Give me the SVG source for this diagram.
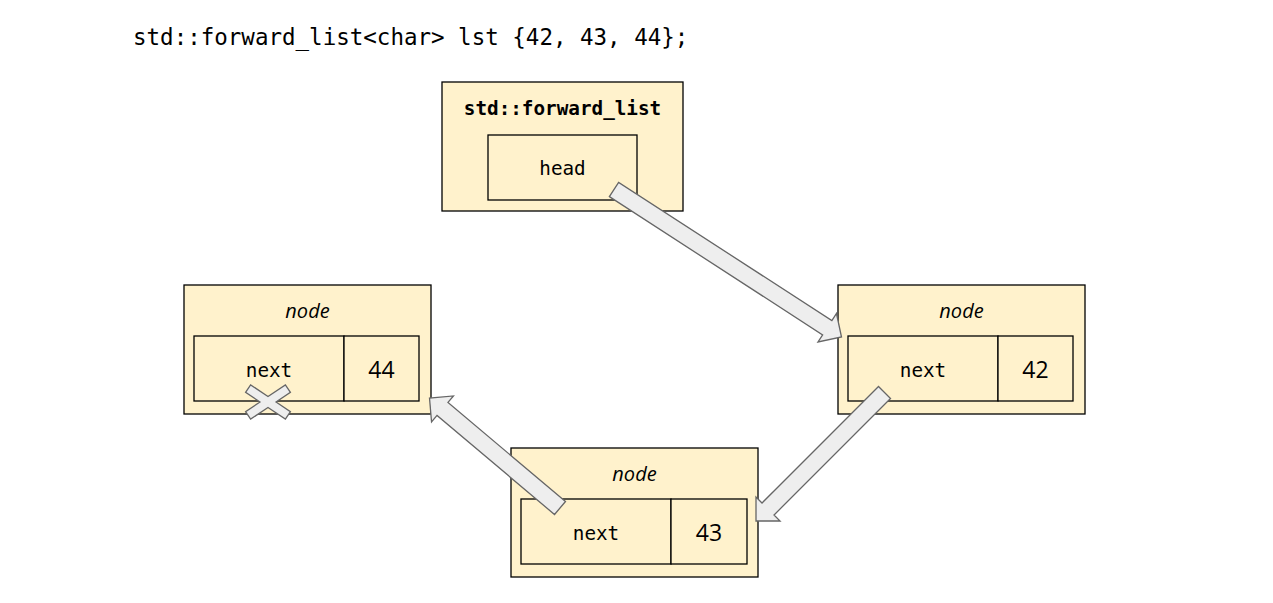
<svg xmlns="http://www.w3.org/2000/svg" width="1273" height="603" viewBox="0 0 1273 603">
<style>
.box{fill:#fff2cc;stroke:#000;stroke-width:1.3}
.code{font-family:"DejaVu Sans Mono","Liberation Mono",monospace;fill:#000}
.lbl{font-family:"Open Sans","Noto Sans",sans-serif;font-style:italic;font-size:20px;fill:#000}
.num{font-family:"Open Sans","Noto Sans",sans-serif;font-size:23px;fill:#000}
.arrow{fill:#eeeeee;stroke:#666666;stroke-width:1.3;stroke-linejoin:miter}
</style>
<rect width="1273" height="603" fill="#fff"/>
<text class="code" x="133" y="45" font-size="22.5">std::forward_list&lt;char&gt; lst {42, 43, 44};</text>

<g id="forward_list">
<rect class="box" x="442" y="82" width="241" height="129"/>
<text class="code" x="562.5" y="115" font-size="19.3" font-weight="bold" text-anchor="middle">std::forward_list</text>
<rect class="box" x="488" y="135" width="149" height="65"/>
<text class="code" x="562.5" y="175" font-size="19.3" text-anchor="middle">head</text>
</g>

<g id="node44">
<rect class="box" x="184" y="285" width="247" height="129"/>
<text class="lbl" x="307.5" y="318" text-anchor="middle">node</text>
<rect class="box" x="194" y="336" width="150" height="65"/>
<rect class="box" x="344" y="336" width="75" height="65"/>
<text class="code" x="269" y="377" font-size="19.3" text-anchor="middle">next</text>
<text class="num" x="381.5" y="378" text-anchor="middle">44</text>
</g>

<g id="node42">
<rect class="box" x="838" y="285" width="247" height="129"/>
<text class="lbl" x="961.5" y="318" text-anchor="middle">node</text>
<rect class="box" x="848" y="336" width="150" height="65"/>
<rect class="box" x="998" y="336" width="75" height="65"/>
<text class="code" x="923" y="377" font-size="19.3" text-anchor="middle">next</text>
<text class="num" x="1035.5" y="378" text-anchor="middle">42</text>
</g>

<g id="node43">
<rect class="box" x="511" y="448" width="247" height="129"/>
<text class="lbl" x="634.5" y="481" text-anchor="middle">node</text>
<rect class="box" x="521" y="499" width="150" height="65"/>
<rect class="box" x="671" y="499" width="76" height="65"/>
<text class="code" x="596" y="540" font-size="19.3" text-anchor="middle">next</text>
<text class="num" x="709" y="541" text-anchor="middle">43</text>
</g>

<g id="connectors">
<polygon class="arrow" points="609.38,196.63 822.62,334.88 817.99,342.01 841.5,337 836.49,313.49 831.86,320.62 618.62,182.37"/>
<polygon class="arrow" points="878.49,386.49 762.01,502.97 756,496.96 756,521 780.04,521 774.03,514.99 890.51,398.51"/>
<polygon class="arrow" points="565.48,501.5 447.98,402.45 453.45,395.95 429.5,398 431.55,421.95 437.02,415.45 554.52,514.5"/>
</g>

<g id="null_mark" transform="translate(268,402)">
<polygon class="arrow" points="8.05,0 22.42,9.69 17.38,17.15 0,5.43 -17.38,17.15 -22.42,9.69 -8.05,0 -22.42,-9.69 -17.38,-17.15 0,-5.43 17.38,-17.15 22.42,-9.69"/>
</g>
</svg>
